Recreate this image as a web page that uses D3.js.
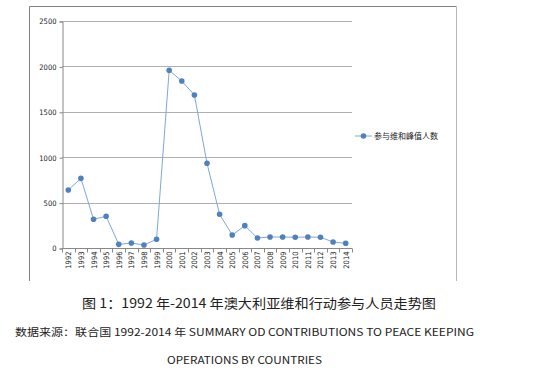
<!DOCTYPE html>
<html>
<head>
<meta charset="utf-8">
<script src="https://cdn.jsdelivr.net/npm/d3@7"></script>
<style>
  body { margin: 0; background: #fff; }
  #chart { width: 541px; height: 374px; }
  .caption { font-family: "Noto Sans CJK SC", "Noto Sans", sans-serif; fill: #222; }
</style>
</head>
<body>
<div id="chart"></div>
<script>
// data
const years = ["1992","1993","1994","1995","1996","1997","1998","1999","2000","2001","2002","2003",
               "2004","2005","2006","2007","2008","2009","2010","2011","2012","2013","2014"];
const personnel = [639, 767, 316, 349, 40, 55, 33, 96, 1957, 1839, 1685, 933,
                   371, 143, 246, 110, 121, 121, 118, 121, 118, 66, 52];
const yTicks = [0, 500, 1000, 1500, 2000, 2500];
const seriesName = "参与维和峰值人数";

const width = 541, height = 374;
const svg = d3.select("#chart").append("svg")
    .attr("width", width)
    .attr("height", height);

// chart frame
svg.append("line").attr("x1", 29.5).attr("y1", 6.5).attr("x2", 456.5).attr("y2", 6.5)
    .attr("stroke", "#808080");
svg.append("line").attr("x1", 29.5).attr("y1", 6.5).attr("x2", 29.5).attr("y2", 281)
    .attr("stroke", "#808080");
svg.append("line").attr("x1", 456.5).attr("y1", 6.5).attr("x2", 456.5).attr("y2", 281)
    .attr("stroke", "#b8b8b8");

const plot = {left: 62, right: 352, top: 21, bottom: 248};

const x = d3.scaleBand().domain(years).range([plot.left, plot.right]);
const y = d3.scaleLinear().domain([0, 2500]).range([plot.bottom, plot.top]);

// gridlines
svg.append("g")
    .selectAll("line")
    .data(yTicks.filter(d => d > 0))
    .enter().append("line")
    .attr("x1", plot.left).attr("x2", plot.right)
    .attr("y1", d => Math.round(y(d)) + 0.5).attr("y2", d => Math.round(y(d)) + 0.5)
    .attr("stroke", "#b0b0b0");

// y axis
const yAxis = svg.append("g")
    .attr("transform", `translate(${plot.left + 0.5},0.5)`)
    .call(d3.axisLeft(y).tickValues(yTicks).tickSize(3).tickPadding(3).tickFormat(d3.format("d")));
yAxis.selectAll("line, path").attr("stroke", "#888");
yAxis.selectAll("text")
    .attr("font-family", "DejaVu Sans Condensed, DejaVu Sans, sans-serif")
    .attr("font-size", 7.5)
    .attr("fill", "#222");

// x axis with ticks between categories
const xAxisG = svg.append("g")
    .attr("transform", `translate(0,${plot.bottom + 0.5})`);
xAxisG.append("line")
    .attr("x1", plot.left).attr("x2", plot.right)
    .attr("stroke", "#888");
xAxisG.selectAll(".sep")
    .data(years.concat(["end"]))
    .enter().append("line")
    .attr("class", "sep")
    .attr("x1", (d, i) => Math.round(plot.left + i * x.step()) + 0.5)
    .attr("x2", (d, i) => Math.round(plot.left + i * x.step()) + 0.5)
    .attr("y1", 0).attr("y2", 4)
    .attr("stroke", "#888");
xAxisG.selectAll("text")
    .data(years)
    .enter().append("text")
    .attr("transform", d => `translate(${x(d) + x.bandwidth() / 2 + 3},3) rotate(-90)`)
    .attr("text-anchor", "end")
    .attr("font-family", "DejaVu Sans Condensed, DejaVu Sans, sans-serif")
    .attr("font-size", 7.5)
    .attr("fill", "#222")
    .text(d => d);

// series line + markers
const line = d3.line()
    .x((d, i) => x(years[i]) + x.bandwidth() / 2)
    .y(d => y(d));

svg.append("path")
    .datum(personnel)
    .attr("d", line)
    .attr("fill", "none")
    .attr("stroke", "#7fa7d8")
    .attr("stroke-width", 1);

svg.append("g")
    .selectAll("circle")
    .data(personnel)
    .enter().append("circle")
    .attr("cx", (d, i) => x(years[i]) + x.bandwidth() / 2)
    .attr("cy", d => y(d))
    .attr("r", 2.8)
    .attr("fill", "#4f81bd");

// legend
const legend = svg.append("g").attr("transform", "translate(355,136)");
legend.append("line").attr("x1", 0).attr("x2", 17).attr("stroke", "#7fa7d8");
legend.append("circle").attr("cx", 8.5).attr("r", 2.8).attr("fill", "#4f81bd");
legend.append("text")
    .attr("x", 19).attr("y", 3)
    .attr("font-family", "Noto Sans CJK SC, sans-serif")
    .attr("font-size", 8)
    .attr("fill", "#222")
    .text(seriesName);

// captions
svg.append("text").attr("class", "caption")
    .attr("x", 82).attr("y", 308)
    .attr("font-size", 13)
    .attr("textLength", 354)
    .attr("lengthAdjust", "spacingAndGlyphs")
    .text("图 1：1992 年-2014 年澳大利亚维和行动参与人员走势图");

svg.append("text").attr("class", "caption")
    .attr("x", 15).attr("y", 336)
    .attr("font-size", 10.5)
    .attr("textLength", 459)
    .attr("lengthAdjust", "spacingAndGlyphs")
    .text("数据来源：联合国 1992-2014 年 SUMMARY OD CONTRIBUTIONS TO PEACE KEEPING");

svg.append("text").attr("class", "caption")
    .attr("x", 167).attr("y", 364)
    .attr("font-size", 10.5)
    .attr("textLength", 155)
    .attr("lengthAdjust", "spacingAndGlyphs")
    .text("OPERATIONS BY COUNTRIES");
</script>
</body>
</html>
